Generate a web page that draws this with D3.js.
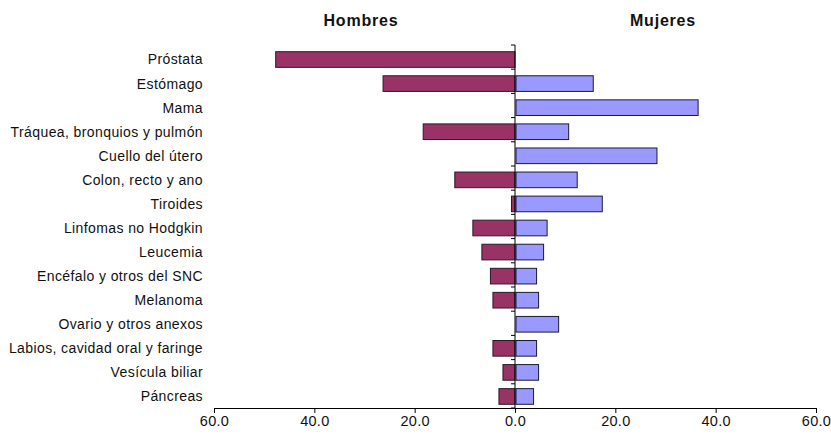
<!DOCTYPE html>
<html>
<head>
<meta charset="utf-8">
<script src="https://cdn.jsdelivr.net/npm/d3@7"></script>
<style>
  body { margin: 0; background: #fff; }
  svg { display: block; font-family: "Liberation Sans", Arial, sans-serif; }
</style>
</head>
<body>
<svg id="chart" width="831" height="438"></svg>
<script>
const categories = [
  "Próstata", "Estómago", "Mama", "Tráquea, bronquios y pulmón",
  "Cuello del útero", "Colon, recto y ano", "Tiroides",
  "Linfomas no Hodgkin", "Leucemia", "Encéfalo y otros del SNC",
  "Melanoma", "Ovario y otros anexos", "Labios, cavidad oral y faringe",
  "Vesícula biliar", "Páncreas"
];
const hombres = [47.7, 26.3, 0, 18.3, 0, 12.0, 0.7, 8.4, 6.6, 4.9, 4.4, 0, 4.4, 2.4, 3.2];
const mujeres = [0, 15.6, 36.5, 10.7, 28.3, 12.4, 17.4, 6.4, 5.7, 4.3, 4.7, 8.7, 4.3, 4.7, 3.7];
const tickValues = [-60, -40, -20, 0, 20, 40, 60];
const seriesTitles = ["Hombres", "Mujeres"];

const svg = d3.select("#chart");
const x = d3.scaleLinear().domain([-60, 60]).range([214, 816]);
const y = d3.scaleBand().domain(categories).range([47.5, 408.5]).paddingInner(0.35).paddingOuter(0.175);

// Bars
svg.append("g").selectAll("rect")
  .data(categories.map((c, i) => ({c, v: hombres[i]})).filter(d => d.v > 0))
  .join("rect")
  .attr("x", d => x(-d.v))
  .attr("y", d => y(d.c))
  .attr("width", d => x(0) - x(-d.v))
  .attr("height", y.bandwidth())
  .attr("fill", "#993366")
  .attr("stroke", "#2a1a22")
  .attr("stroke-width", 1);

svg.append("g").selectAll("rect")
  .data(categories.map((c, i) => ({c, v: mujeres[i]})).filter(d => d.v > 0))
  .join("rect")
  .attr("x", x(0) + 1)
  .attr("y", d => y(d.c))
  .attr("width", d => x(d.v) - x(0) - 1)
  .attr("height", y.bandwidth())
  .attr("fill", "#9999ff")
  .attr("stroke", "#1a1a3a")
  .attr("stroke-width", 1);

// Vertical axis at zero
const vaxis = svg.append("g").attr("stroke", "#000").attr("stroke-width", 1);
vaxis.append("line").attr("x1", x(0)).attr("x2", x(0)).attr("y1", 45).attr("y2", 408);
d3.range(categories.length + 1).forEach(i => {
  const yy = 45 + i * (363 / categories.length);
  vaxis.append("line").attr("x1", x(0) - 4).attr("x2", x(0)).attr("y1", yy).attr("y2", yy);
});

// Category labels
svg.append("g").selectAll("text")
  .data(categories)
  .join("text")
  .attr("x", 203)
  .attr("y", d => y(d) + y.bandwidth() / 2)
  .attr("dy", "0.35em")
  .attr("text-anchor", "end")
  .attr("font-size", 14)
  .attr("letter-spacing", 0.4)
  .attr("fill", "#111")
  .text(d => d);

// Bottom axis
const xAxis = d3.axisBottom(x).tickValues(tickValues).tickSize(5)
  .tickFormat(d => d3.format(".1f")(Math.abs(d)));
const gx = svg.append("g").attr("transform", "translate(0,408)").call(xAxis);
gx.select(".domain").attr("stroke", "#000");
gx.selectAll(".tick line").attr("stroke", "#000");
gx.selectAll(".tick text").attr("font-size", 14.5).attr("letter-spacing", 0.3)
  .attr("font-family", "Liberation Sans, Arial, sans-serif").attr("fill", "#111").attr("y", 8);

// Titles
svg.append("g").selectAll("text")
  .data(seriesTitles)
  .join("text")
  .attr("x", (d, i) => i === 0 ? 361 : 663)
  .attr("y", 26)
  .attr("text-anchor", "middle")
  .attr("font-size", 16)
  .attr("letter-spacing", 0.8)
  .attr("font-weight", "bold")
  .attr("fill", "#111")
  .text(d => d);
</script>
</body>
</html>
